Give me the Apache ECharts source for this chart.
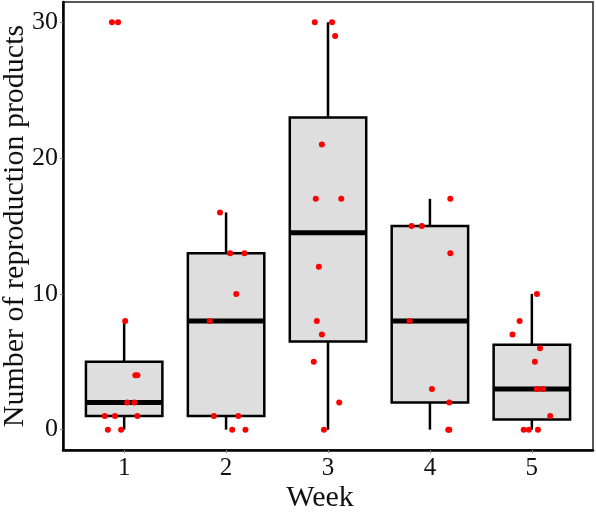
<!DOCTYPE html>
<html>
<head>
<meta charset="utf-8">
<script src="https://cdn.jsdelivr.net/npm/echarts@6/dist/echarts.min.js"></script>
<style>html,body{margin:0;padding:0;background:#fff}#c{width:596px;height:512px}</style>
</head>
<body>
<div id="c"></div>
<script>
// Categories (weeks)
var weeks = [1, 2, 3, 4, 5];
var weekLabels = ['1', '2', '3', '4', '5'];
var yTicks = [0, 10, 20, 30];

// Box statistics per week: lower whisker, Q1, median, Q3, upper whisker
var whiskerLow  = [0, 0, 0, 0, 0];
var q1          = [1, 1, 6.5, 2, 0.75];
var median      = [2, 8, 14.5, 8, 3];
var q3          = [5, 13, 23, 15, 6.25];
var whiskerHigh = [8, 16, 30, 17, 10];

// Jittered raw observations: week, horizontal jitter (in week units), value
var w1Jitter = [-0.12, -0.06, 0.01, 0.11, 0.13, 0.03, 0.10, -0.19, -0.09, 0.13, -0.16, -0.03];
var w1Values = [30, 30, 8, 4, 4, 2, 2, 1, 1, 1, 0, 0];
var w2Jitter = [-0.06, 0.04, 0.18, 0.10, -0.16, -0.12, 0.12, 0.06, 0.19];
var w2Values = [16, 13, 13, 10, 8, 1, 1, 0, 0];
var w3Jitter = [-0.13, 0.04, 0.07, -0.06, -0.12, 0.13, -0.09, -0.11, -0.06, -0.14, 0.11, -0.04];
var w3Values = [30, 30, 29, 21, 17, 17, 12, 8, 7, 5, 2, 0];
var w4Jitter = [0.20, -0.18, -0.08, 0.20, -0.20, 0.02, 0.19, 0.18, 0.19];
var w4Values = [17, 15, 15, 13, 8, 3, 2, 0, 0];
var w5Jitter = [0.05, -0.12, -0.19, 0.08, 0.03, 0.05, 0.11, 0.18, -0.08, -0.03, 0.06];
var w5Values = [10, 8, 7, 6, 5, 3, 3, 1, 0, 0, 0];

var jitters = [w1Jitter, w2Jitter, w3Jitter, w4Jitter, w5Jitter];
var values = [w1Values, w2Values, w3Values, w4Values, w5Values];

var boxData = weeks.map(function (w, i) {
  return [w, whiskerLow[i], q1[i], median[i], q3[i], whiskerHigh[i]];
});
var pointData = [];
weeks.forEach(function (w, i) {
  values[i].forEach(function (v, j) {
    pointData.push([w + jitters[i][j], v]);
  });
});

var FONT = '"Liberation Serif", "Times New Roman", serif';

var chart = echarts.init(document.getElementById('c'), null, {renderer: 'canvas'});
chart.setOption({
  animation: false,
  backgroundColor: '#ffffff',
  grid: {
    left: 63, right: 3, top: 2, bottom: 62,
    containLabel: false, outerBoundsMode: 'none',
    show: true, borderColor: '#222', borderWidth: 1.5, backgroundColor: 'transparent'
  },
  xAxis: {
    type: 'value', min: 0.4, max: 5.6,
    name: 'Week', nameLocation: 'middle', nameGap: 33, nameMoveOverlap: false,
    nameTextStyle: {fontFamily: FONT, fontSize: 30, color: '#111', padding: [0, 16, 0, 0]},
    axisLine: {show: true, onZero: false, lineStyle: {color: '#000', width: 2.5}},
    axisTick: {show: true, length: 3, customValues: weeks, lineStyle: {color: '#888', width: 1}},
    axisLabel: {
      customValues: weeks, margin: 6,
      fontFamily: FONT, fontSize: 25, color: '#111',
      formatter: function (v) { var k = weeks.indexOf(Math.round(v)); return k >= 0 ? weekLabels[k] : ''; }
    },
    splitLine: {show: false}
  },
  yAxis: {
    type: 'value', min: -1.5, max: 31.5,
    name: 'Number of reproduction products', nameLocation: 'middle', nameGap: 33, nameRotate: 90,
    nameMoveOverlap: false,
    nameTextStyle: {fontFamily: FONT, fontSize: 30, color: '#111'},
    axisLine: {show: true, onZero: false, lineStyle: {color: '#000', width: 2.5}},
    axisTick: {show: true, length: 3, customValues: yTicks, lineStyle: {color: '#888', width: 1}},
    axisLabel: {customValues: yTicks, margin: 5, fontFamily: FONT, fontSize: 26, color: '#111'},
    splitLine: {show: false}
  },
  series: [
    {
      type: 'custom',
      data: boxData,
      z: 2,
      encode: {x: 0, y: [1, 2, 3, 4, 5]},
      renderItem: function (params, api) {
        var x = api.value(0);
        var lo = api.coord([x, api.value(1)]);
        var b1 = api.coord([x, api.value(2)]);
        var md = api.coord([x, api.value(3)]);
        var b3 = api.coord([x, api.value(4)]);
        var hi = api.coord([x, api.value(5)]);
        var hw = api.size([0.75, 0])[0] / 2;
        var cx = lo[0];
        return {
          type: 'group',
          children: [
            {type: 'line', shape: {x1: cx, y1: lo[1], x2: cx, y2: hi[1]}, style: {stroke: '#000', lineWidth: 2.5}},
            {type: 'rect', shape: {x: cx - hw, y: b3[1], width: 2 * hw, height: b1[1] - b3[1]},
              style: {fill: '#DEDEDE', stroke: '#000', lineWidth: 2.5}},
            {type: 'line', shape: {x1: cx - hw, y1: md[1], x2: cx + hw, y2: md[1]}, style: {stroke: '#000', lineWidth: 5}}
          ]
        };
      }
    },
    {
      type: 'scatter',
      data: pointData,
      z: 5,
      symbol: 'circle',
      symbolSize: 6,
      itemStyle: {color: '#FF0000', opacity: 1}
    }
  ]
});
</script>
</body>
</html>
